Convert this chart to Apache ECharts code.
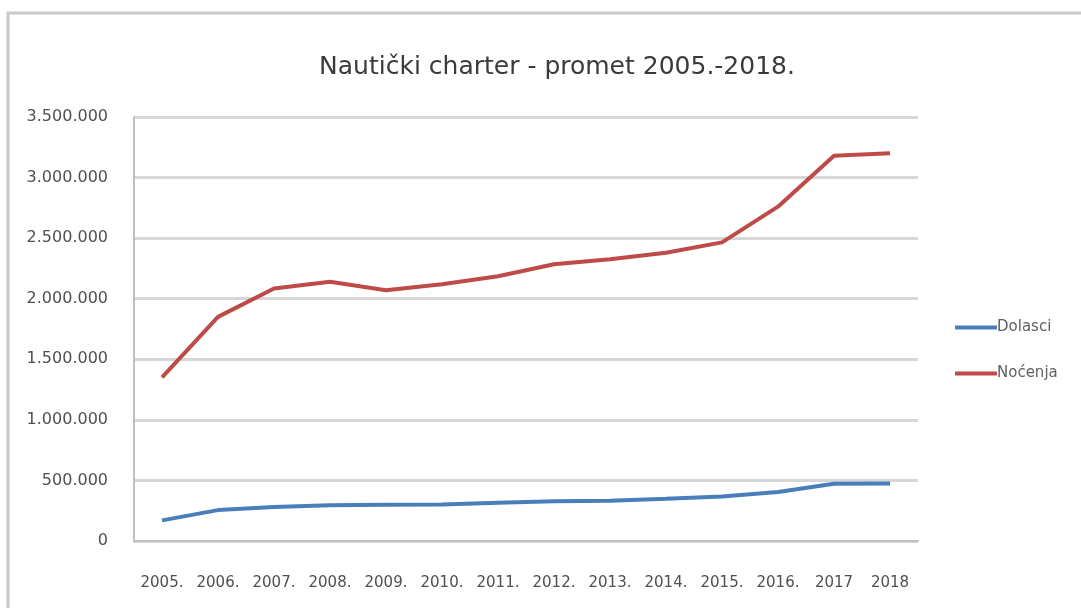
<!DOCTYPE html>
<html>
<head>
<meta charset="utf-8">
<script src="https://cdn.jsdelivr.net/npm/echarts@6/dist/echarts.min.js"></script>
<style>html,body{margin:0;padding:0;background:#fff;}#c{width:1081px;height:608px;}</style>
</head>
<body>
<div id="c"></div>
<script>
const titleText = 'Nautički charter - promet 2005.-2018.';
const categories = ['2005.','2006.','2007.','2008.','2009.','2010.','2011.','2012.','2013.','2014.','2015.','2016.','2017','2018'];
const dolasci = [170000,255000,280000,295000,300000,302000,315000,328000,333000,348000,368000,405000,472000,475000];
const nocenja = [1350000,1850000,2085000,2140000,2070000,2120000,2185000,2285000,2325000,2380000,2465000,2760000,3180000,3200000];
const yTickLabels = ['0','500.000','1.000.000','1.500.000','2.000.000','2.500.000','3.000.000','3.500.000'];
const seriesNames = ['Dolasci','Noćenja'];

const chart = echarts.init(document.getElementById('c'));
const font = '"DejaVu Sans", sans-serif';
chart.setOption({
  backgroundColor: '#fff',
  animation: false,
  graphic: [{
    type: 'rect', shape: {x: 8, y: 13, width: 1100, height: 620},
    style: {fill: 'none', stroke: '#c8c8c8', lineWidth: 3}, silent: true
  }],
  title: {
    text: titleText, left: 552, top: 50, textAlign: 'center',
    textStyle: {fontFamily: font, fontSize: 25, fontWeight: 'normal', color: '#3a3a3a'}
  },
  legend: {
    orient: 'vertical', left: 950, top: 315, itemGap: 31,
    icon: 'rect', itemWidth: 42, itemHeight: 4,
    textStyle: {fontFamily: font, fontSize: 15, color: '#606060', padding: [0,0,0,-5]},
    data: seriesNames
  },
  grid: {left: 134, right: 1081 - 918, top: 117, bottom: 608 - 541},
  xAxis: {
    type: 'category', data: categories, boundaryGap: true,
    axisLine: {show: true, lineStyle: {color: '#c0c0c0', width: 2}},
    axisTick: {show: false},
    axisLabel: {fontFamily: font, fontSize: 15, color: '#505050', margin: 35, interval: 0}
  },
  yAxis: {
    type: 'value', min: 0, max: 3500000, interval: 500000,
    axisLine: {show: true, lineStyle: {color: '#c0c0c0', width: 2}},
    axisTick: {show: false},
    splitLine: {lineStyle: {color: '#d6d6d6', width: 3}},
    axisLabel: {
      fontFamily: font, fontSize: 16, color: '#505050', margin: 26,
      formatter: (v) => yTickLabels[Math.round(v / 500000)]
    }
  },
  series: [
    {name: seriesNames[0], type: 'line', data: dolasci, showSymbol: false, symbol: 'none',
     lineStyle: {color: '#4a7ebb', width: 4}, itemStyle: {color: '#4a7ebb'}},
    {name: seriesNames[1], type: 'line', data: nocenja, showSymbol: false, symbol: 'none',
     lineStyle: {color: '#be4b48', width: 4}, itemStyle: {color: '#be4b48'}}
  ]
});
</script>
</body>
</html>
